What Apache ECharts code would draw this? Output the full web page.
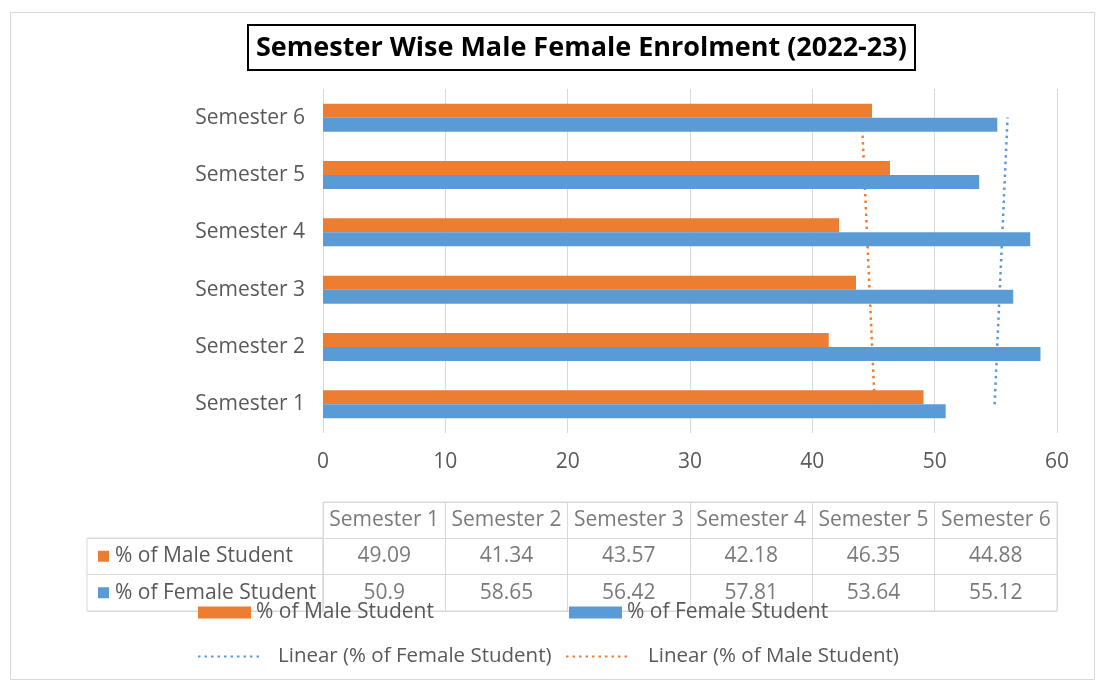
<!DOCTYPE html>
<html>
<head>
<meta charset="utf-8">
<title>Semester Wise Male Female Enrolment (2022-23)</title>
<script src="https://cdn.jsdelivr.net/npm/echarts@6/dist/echarts.min.js"></script>
<style>
  html, body { margin: 0; padding: 0; background: #fff; }
  #chart { width: 1097px; height: 684px; }
</style>
</head>
<body>
<div id="chart"></div>
<script>
const semesters = ['Semester 1', 'Semester 2', 'Semester 3', 'Semester 4', 'Semester 5', 'Semester 6']
const maleValues = [49.09, 41.34, 43.57, 42.18, 46.35, 44.88]
const femaleValues = [50.9, 58.65, 56.42, 57.81, 53.64, 55.12]
const maleName = '% of Male Student'
const femaleName = '% of Female Student'
const maleTrendName = 'Linear (% of Male Student)'
const femaleTrendName = 'Linear (% of Female Student)'
// dotted trend lines, ends at semester 1 and semester 6
const maleTrend = [45.1, 44.04]
const femaleTrend = [54.9, 55.96]
const xTicks = [0, 10, 20, 30, 40, 50, 60]

const font = 'Open Sans'
const textGrey = '#595959'
const lineGrey = '#d9d9d9'
const orange = '#ED7D31'
const blue = '#5B9BD5'

// data table cells: header row, then one row per series
let tableCells = []
for (let i = 0; i < semesters.length; i++) {
  tableCells.push([semesters[i], 'head', semesters[i]])
  tableCells.push([semesters[i], 'male', maleValues[i]])
  tableCells.push([semesters[i], 'female', femaleValues[i]])
}

const legendText = {fontFamily: font, fontSize: 21, color: textGrey}

const option = {
  animation: false,
  title: {
    text: 'Semester Wise Male Female Enrolment (2022-23)',
    left: 248,
    top: 25,
    padding: [9, 8, 8, 8],
    borderColor: '#000',
    borderWidth: 2,
    textStyle: {fontFamily: font, fontWeight: 'bold', fontSize: 27, lineHeight: 28, color: '#000'}
  },
  graphic: [{
    type: 'rect',
    silent: true,
    z: -10,
    shape: {x: 10.5, y: 12.5, width: 1084, height: 667},
    style: {fill: 'none', stroke: lineGrey, lineWidth: 1}
  }],
  legend: [
    {data: [maleName], left: 198, top: 602, padding: 0, icon: 'rect', itemWidth: 53, itemHeight: 12, textStyle: legendText},
    {data: [femaleName], left: 569, top: 602, padding: 0, icon: 'rect', itemWidth: 53, itemHeight: 12, textStyle: legendText},
    {data: [femaleTrendName], left: 197, top: 646, padding: 0, itemWidth: 65, itemHeight: 12,
      itemStyle: {opacity: 0},
      textStyle: Object.assign({padding: [0, 0, 0, 10]}, legendText, {fontSize: 20.5})},
    {data: [maleTrendName], left: 565, top: 646, padding: 0, itemWidth: 62, itemHeight: 12,
      itemStyle: {opacity: 0},
      textStyle: Object.assign({padding: [0, 0, 0, 15]}, legendText, {fontSize: 20.5})}
  ],
  grid: [
    {left: 323, right: 40, top: 89, height: 344},
    {left: 323, right: 40, top: 502, height: 109, show: true, borderColor: lineGrey, borderWidth: 1},
    {left: 87, width: 236, top: 538, height: 73, show: true, borderColor: lineGrey, borderWidth: 1}
  ],
  xAxis: [
    {
      gridIndex: 0,
      type: 'value',
      min: xTicks[0],
      max: xTicks[xTicks.length - 1],
      interval: xTicks[1] - xTicks[0],
      axisLine: {show: false},
      axisTick: {show: false},
      splitLine: {lineStyle: {color: lineGrey}},
      axisLabel: {margin: 19, color: textGrey, fontFamily: font, fontSize: 21}
    },
    {
      gridIndex: 1,
      type: 'category',
      data: semesters,
      axisLine: {show: false},
      axisTick: {show: false},
      axisLabel: {show: false},
      splitLine: {show: true, interval: 0, lineStyle: {color: lineGrey}}
    },
    {gridIndex: 2, type: 'value', show: false}
  ],
  yAxis: [
    {
      gridIndex: 0,
      type: 'category',
      data: semesters,
      axisLine: {show: false},
      axisTick: {show: false},
      axisLabel: {margin: 18, color: textGrey, fontFamily: font, fontSize: 21}
    },
    {
      gridIndex: 1,
      type: 'category',
      data: ['head', 'male', 'female'],
      inverse: true,
      axisLine: {show: false},
      axisTick: {show: false},
      axisLabel: {show: false},
      splitLine: {show: true, interval: 0, lineStyle: {color: lineGrey}}
    },
    {
      gridIndex: 2,
      type: 'category',
      data: [maleName, femaleName],
      inverse: true,
      axisLine: {show: false},
      axisTick: {show: false},
      splitLine: {show: true, interval: 0, lineStyle: {color: lineGrey}},
      axisLabel: {
        inside: true,
        margin: 11,
        interval: 0,
        formatter: (v, i) => (i === 0 ? '{m|}' : '{f|}') + '{t|' + v + '}',
        rich: {
          m: {width: 11, height: 11, backgroundColor: orange},
          f: {width: 11, height: 11, backgroundColor: blue},
          t: {padding: [0, 0, 0, 6], fontFamily: font, fontSize: 21, color: textGrey}
        }
      }
    }
  ],
  series: [
    {
      name: maleName,
      type: 'bar',
      data: maleValues,
      barWidth: 14,
      barGap: '0%',
      itemStyle: {color: orange},
      z: 3
    },
    {
      name: femaleName,
      type: 'bar',
      data: femaleValues,
      barWidth: 14,
      barGap: '0%',
      itemStyle: {color: blue},
      z: 3
    },
    {
      name: femaleTrendName,
      type: 'line',
      data: [[femaleTrend[0], semesters[0]], [femaleTrend[1], semesters[semesters.length - 1]]],
      symbol: 'none',
      itemStyle: {color: blue},
      lineStyle: {color: blue, width: 2.5, type: [2.5, 4]},
      z: 1
    },
    {
      name: maleTrendName,
      type: 'line',
      data: [[maleTrend[0], semesters[0]], [maleTrend[1], semesters[semesters.length - 1]]],
      symbol: 'none',
      itemStyle: {color: orange},
      lineStyle: {color: orange, width: 2.5, type: [2.5, 4]},
      z: 1
    },
    {
      // text of the data table
      type: 'scatter',
      xAxisIndex: 1,
      yAxisIndex: 1,
      silent: true,
      symbolSize: 1,
      itemStyle: {color: 'rgba(0,0,0,0)'},
      data: tableCells,
      label: {
        show: true,
        position: 'inside',
        formatter: p => p.value[2],
        fontFamily: font,
        fontSize: 21,
        color: textGrey
      }
    }
  ]
}

const myChart = echarts.init(document.getElementById('chart'))
myChart.setOption(option)
</script>
</body>
</html>
